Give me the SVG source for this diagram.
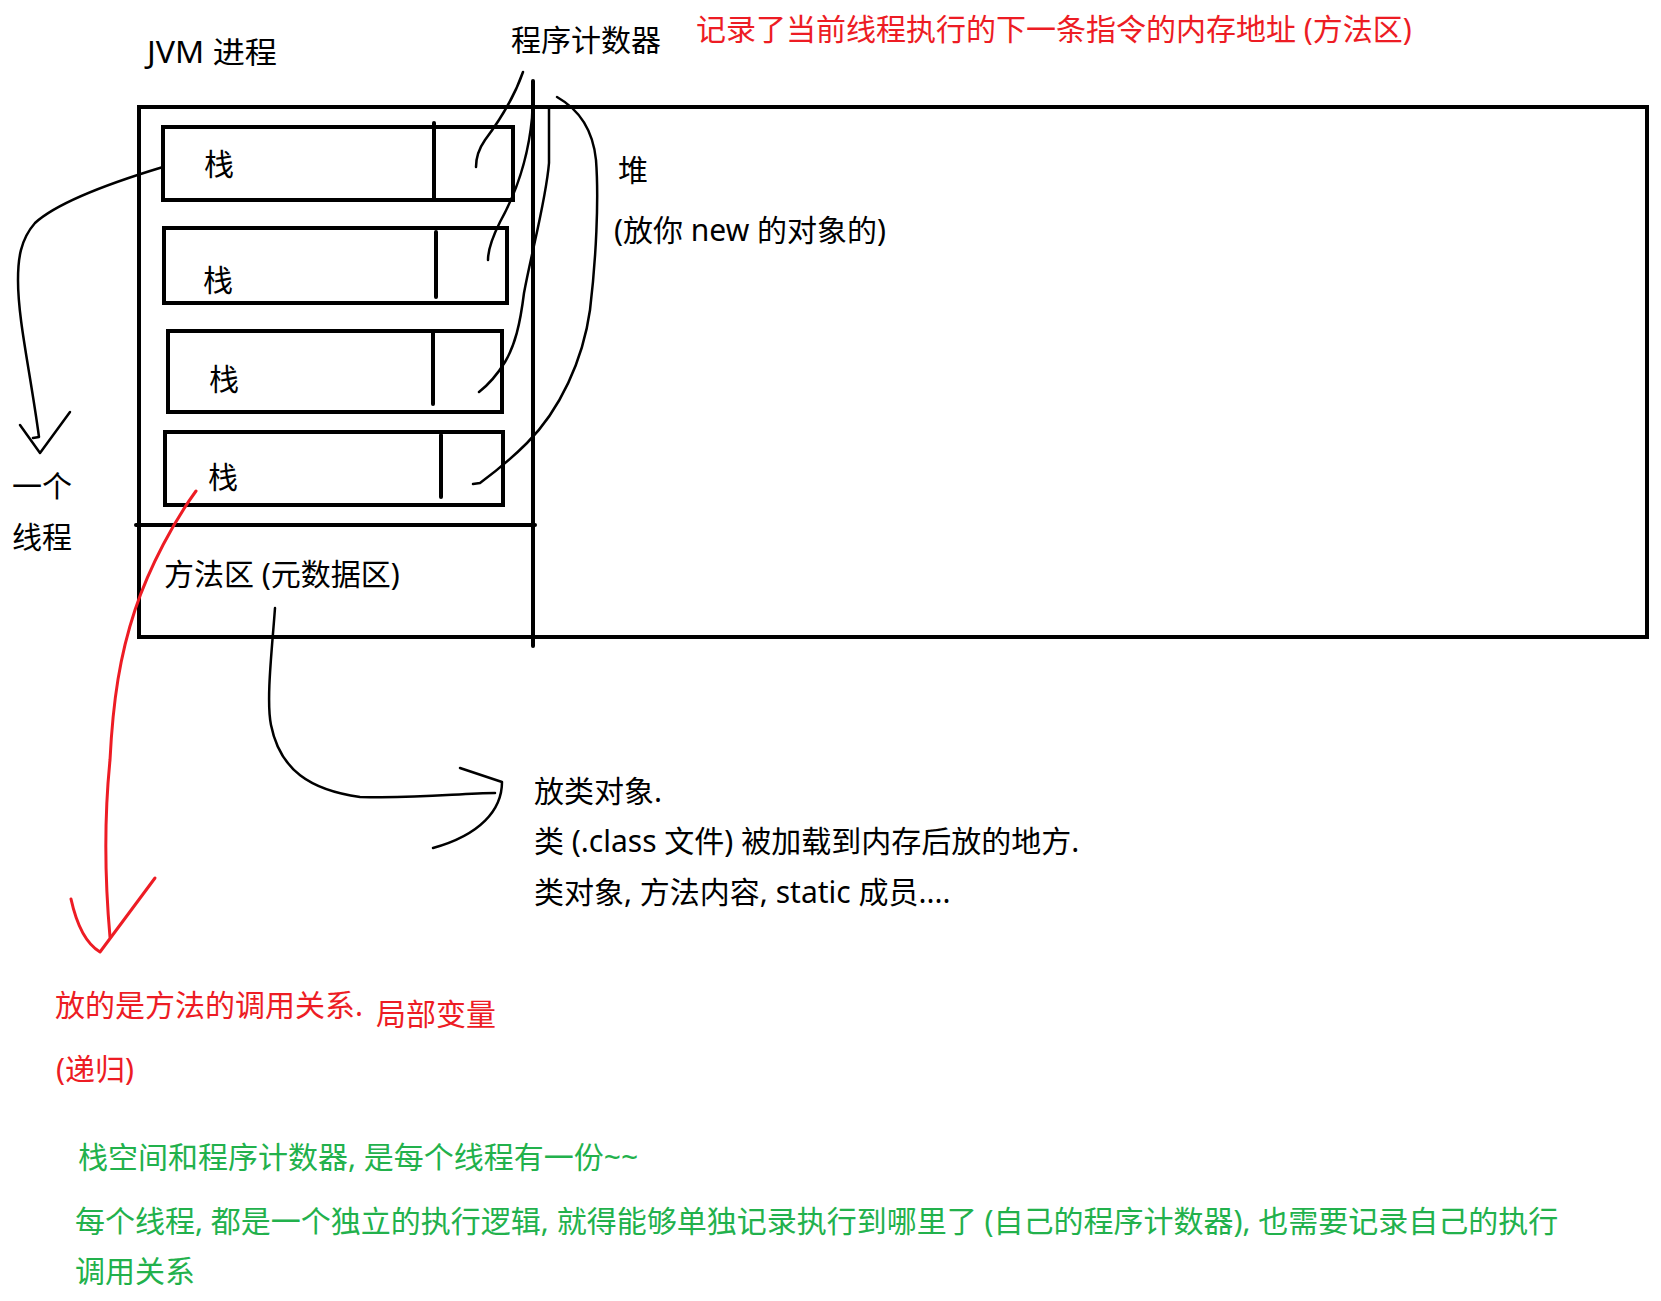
<svg xmlns="http://www.w3.org/2000/svg" width="1661" height="1301" viewBox="0 0 1661 1301">
<style>
  text { font-family: "Noto Sans", "Noto Sans CJK SC", sans-serif; font-size: 30px; fill: #000; }
  .red { fill: #ed1c24; }
  .green { fill: #22b14c; }
  .box { fill: none; stroke: #000; stroke-width: 4; }
  .div { fill: none; stroke: #000; stroke-width: 4; stroke-linecap: round; }
  .ink { fill: none; stroke: #000; stroke-width: 2.5; stroke-linecap: round; stroke-linejoin: round; }
  .rink { fill: none; stroke: #ed1c24; stroke-width: 3; stroke-linecap: round; stroke-linejoin: round; }
</style>
<rect width="1661" height="1301" fill="#fff"/>

<g id="jvm-process">
  <rect class="box" x="139" y="107" width="1508" height="530"/>
  <line class="div" x1="533" y1="81" x2="533" y2="646"/>
  <line class="div" x1="136" y1="525" x2="535" y2="525"/>
  <text x="147" y="63" textLength="130" lengthAdjust="spacingAndGlyphs">JVM 进程</text>
</g>

<g id="heap">
  <text x="618" y="181">堆</text>
  <text x="614" y="241">(放你 new 的对象的)</text>
</g>

<g id="method-area">
  <text x="164" y="585">方法区 (元数据区)</text>
</g>

<g id="stack-1">
  <rect class="box" x="163" y="127" width="350" height="73"/>
  <line class="div" x1="434" y1="123" x2="434" y2="198"/>
  <text x="204" y="175">栈</text>
</g>
<g id="stack-2">
  <rect class="box" x="164" y="228" width="343" height="75"/>
  <line class="div" x1="436" y1="232" x2="436" y2="297"/>
  <text x="203" y="291">栈</text>
</g>
<g id="stack-3">
  <rect class="box" x="168" y="331" width="334" height="81"/>
  <line class="div" x1="433" y1="333" x2="433" y2="404"/>
  <text x="209" y="390">栈</text>
</g>
<g id="stack-4">
  <rect class="box" x="165" y="432" width="338" height="73"/>
  <line class="div" x1="441" y1="435" x2="441" y2="497"/>
  <text x="208" y="488">栈</text>
</g>

<g id="program-counter">
  <text x="511" y="51">程序计数器</text>
  <text class="red" x="696" y="40">记录了当前线程执行的下一条指令的内存地址 (方法区)</text>
</g>

<g id="thread-label">
  <text x="12" y="497">一个</text>
  <text x="12" y="548">线程</text>
</g>

<g id="class-object-note">
  <text x="534" y="802">放类对象.</text>
  <text x="534" y="852">类 (.class 文件) 被加载到内存后放的地方.</text>
  <text x="534" y="903">类对象, 方法内容, static 成员....</text>
</g>

<g id="stack-note">
  <text class="red" x="55" y="1016">放的是方法的调用关系.</text>
  <text class="red" x="376" y="1025">局部变量</text>
  <text class="red" x="56" y="1080">(递归)</text>
</g>

<g id="summary">
  <text class="green" x="78" y="1168">栈空间和程序计数器, 是每个线程有一份~~</text>
  <text class="green" x="75" y="1232">每个线程, 都是一个独立的执行逻辑, 就得能够单独记录执行到哪里了 (自己的程序计数器), 也需要记录自己的执行</text>
  <text class="green" x="75" y="1282">调用关系</text>
</g>

<g id="connectors">
  <path class="ink" d="M163,167 C120,180 60,200 35,223 C20,240 18,260 18,280 C18,320 30,370 39,437 L33,438"/>
  <path class="ink" d="M20,425 L40,453 L70,412"/>
  <path class="ink" d="M523,72 C515,95 500,120 485,140 C478,150 476,160 476,167"/>
  <path class="ink" d="M533,95 L532,118 C528,160 515,195 500,222 C491,240 488,250 488,260"/>
  <path class="ink" d="M549,109 L549,163 C546,200 532,250 524,293 C520,325 515,345 505,362 C497,375 488,385 479,392"/>
  <path class="ink" d="M557,97 C580,110 593,130 596,160 C599,200 596,260 590,310 C583,360 560,410 527,443 C510,460 495,472 480,483 L473,484"/>
  <path class="ink" d="M275,608 C272,650 266,700 271,725 C280,770 310,790 360,797 C420,799 460,793 495,793"/>
  <path class="ink" d="M460,768 L502,782 C502,810 480,835 433,848"/>
  <path class="rink" d="M196,491 C175,520 150,565 135,610 C120,655 113,700 110,760 C105,810 104,870 110,937"/>
  <path class="rink" d="M71,899 Q80,940 100,952 L155,878"/>
</g>
</svg>
